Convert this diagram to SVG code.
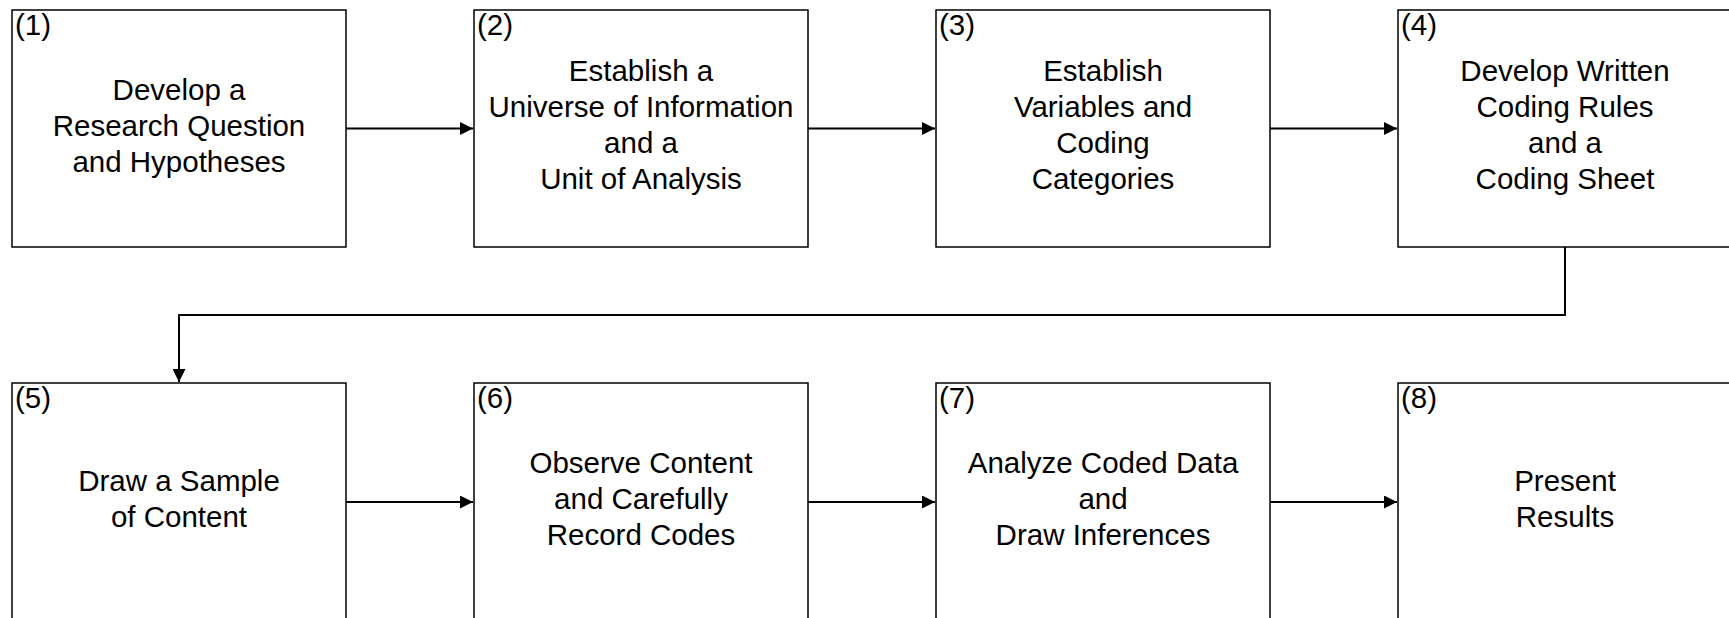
<svg xmlns="http://www.w3.org/2000/svg" width="1729" height="618" viewBox="0 0 1729 618">
  <style>
    .box { fill: #ffffff; stroke: #000000; stroke-width: 1.5; }
    .num { font-family: "Liberation Sans", Arial, sans-serif; font-size: 29.5px; fill: #000000; }
    .lbl { font-family: "Liberation Sans", Arial, sans-serif; font-size: 29.5px; fill: #000000; text-anchor: middle; }
    .edge { fill: none; stroke: #000000; stroke-width: 2; }
  </style>
  <defs>
    <marker id="arrow" markerUnits="userSpaceOnUse" markerWidth="14" markerHeight="13" refX="13" refY="6.5" orient="auto">
      <path d="M0,0 L13,6.5 L0,13 Z" fill="#000000"/>
    </marker>
  </defs>
  <rect x="0" y="0" width="1729" height="618" fill="#ffffff"/>

  <g id="connectors">
    <path class="edge" d="M346,128.5 L473,128.5" marker-end="url(#arrow)"/>
    <path class="edge" d="M808,128.5 L935,128.5" marker-end="url(#arrow)"/>
    <path class="edge" d="M1270,128.5 L1397,128.5" marker-end="url(#arrow)"/>
    <path class="edge" d="M1565,247 L1565,315 L179,315 L179,382" marker-end="url(#arrow)"/>
    <path class="edge" d="M346,502 L473,502" marker-end="url(#arrow)"/>
    <path class="edge" d="M808,502 L935,502" marker-end="url(#arrow)"/>
    <path class="edge" d="M1270,502 L1397,502" marker-end="url(#arrow)"/>
  </g>

  <g id="node1">
    <rect class="box" x="12" y="10" width="334" height="237"/>
    <text class="num" x="15" y="35">(1)</text>
    <text class="lbl" x="179" y="99.5">Develop a</text>
    <text class="lbl" x="179" y="135.5">Research Question</text>
    <text class="lbl" x="179" y="171.5">and Hypotheses</text>
  </g>
  <g id="node2">
    <rect class="box" x="474" y="10" width="334" height="237"/>
    <text class="num" x="477" y="35">(2)</text>
    <text class="lbl" x="641" y="81">Establish a</text>
    <text class="lbl" x="641" y="117">Universe of Information</text>
    <text class="lbl" x="641" y="153">and a</text>
    <text class="lbl" x="641" y="189">Unit of Analysis</text>
  </g>
  <g id="node3">
    <rect class="box" x="936" y="10" width="334" height="237"/>
    <text class="num" x="939" y="35">(3)</text>
    <text class="lbl" x="1103" y="81">Establish</text>
    <text class="lbl" x="1103" y="117">Variables and</text>
    <text class="lbl" x="1103" y="153">Coding</text>
    <text class="lbl" x="1103" y="189">Categories</text>
  </g>
  <g id="node4">
    <rect class="box" x="1398" y="10" width="334" height="237"/>
    <text class="num" x="1401" y="35">(4)</text>
    <text class="lbl" x="1565" y="81">Develop Written</text>
    <text class="lbl" x="1565" y="117">Coding Rules</text>
    <text class="lbl" x="1565" y="153">and a</text>
    <text class="lbl" x="1565" y="189">Coding Sheet</text>
  </g>
  <g id="node5">
    <rect class="box" x="12" y="383" width="334" height="237"/>
    <text class="num" x="15" y="408">(5)</text>
    <text class="lbl" x="179" y="491">Draw a Sample</text>
    <text class="lbl" x="179" y="527">of Content</text>
  </g>
  <g id="node6">
    <rect class="box" x="474" y="383" width="334" height="237"/>
    <text class="num" x="477" y="408">(6)</text>
    <text class="lbl" x="641" y="473">Observe Content</text>
    <text class="lbl" x="641" y="509">and Carefully</text>
    <text class="lbl" x="641" y="545">Record Codes</text>
  </g>
  <g id="node7">
    <rect class="box" x="936" y="383" width="334" height="237"/>
    <text class="num" x="939" y="408">(7)</text>
    <text class="lbl" x="1103" y="473">Analyze Coded Data</text>
    <text class="lbl" x="1103" y="509">and</text>
    <text class="lbl" x="1103" y="545">Draw Inferences</text>
  </g>
  <g id="node8">
    <rect class="box" x="1398" y="383" width="334" height="237"/>
    <text class="num" x="1401" y="408">(8)</text>
    <text class="lbl" x="1565" y="491">Present</text>
    <text class="lbl" x="1565" y="527">Results</text>
  </g>
</svg>
